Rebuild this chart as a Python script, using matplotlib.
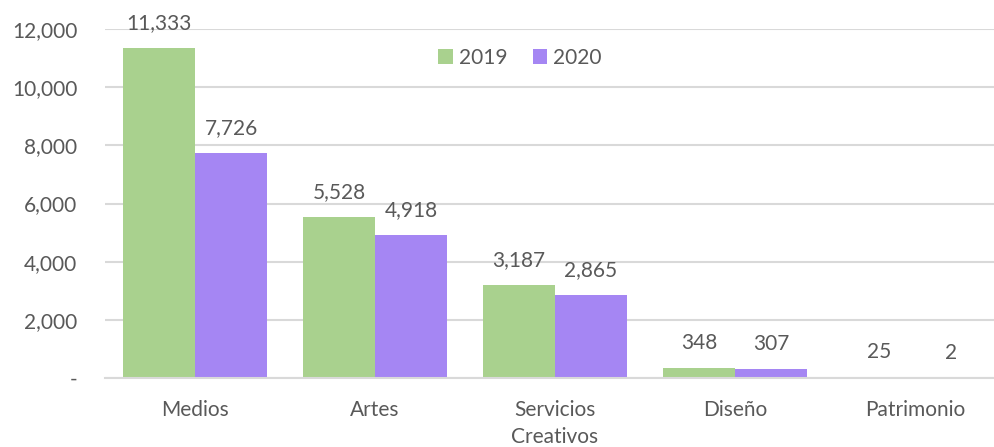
import matplotlib.pyplot as plt
import numpy as np
from matplotlib.ticker import FuncFormatter

categories = ['Medios', 'Artes', 'Servicios\nCreativos', 'Diseño', 'Patrimonio']
values_2019 = [11333, 5528, 3187, 348, 25]
values_2020 = [7726, 4918, 2865, 307, 2]
years = ['2019', '2020']

green = '#A9D18E'
purple = '#A586F3'
text_col = '#595959'
grid_col = '#D9D9D9'

plt.rcParams['font.family'] = ['Lato', 'DejaVu Sans']

fig = plt.figure(figsize=(9.94, 4.47), dpi=100)
ax = fig.add_axes([105 / 994, 1 - 378 / 447, 889 / 994, 349 / 447])

x = np.arange(len(categories))
w = 0.4
b1 = ax.bar(x - w / 2, values_2019, w, color=green, label=years[0], zorder=2)
b2 = ax.bar(x + w / 2, values_2020, w, color=purple, label=years[1], zorder=2)

# value labels above each bar
for bars in (b1, b2):
    for rect in bars:
        h = rect.get_height()
        ax.annotate(f'{h:,.0f}', (rect.get_x() + rect.get_width() / 2, h),
                    xytext=(0, 18), textcoords='offset points',
                    ha='center', va='center', fontsize=15, color=text_col)

ax.set_ylim(0, 12000)
ax.set_xlim(-0.5, -0.5 + 889 / 180)
ax.set_yticks(range(0, 12001, 2000))
ax.yaxis.set_major_formatter(FuncFormatter(lambda v, p: '-' if v == 0 else f'{v:,.0f}'))
ax.set_xticks(x)
ax.set_xticklabels(categories)
ax.tick_params(axis='both', length=0, labelsize=15, labelcolor=text_col)
ax.tick_params(axis='y', pad=20)
ax.tick_params(axis='x', pad=16)
for lab in ax.get_xticklabels():
    lab.set_verticalalignment('top')
    lab.set_linespacing(1.45)

ax.grid(axis='y', color=grid_col, linewidth=1.5, zorder=0)
for s in ['left', 'right', 'top']:
    ax.spines[s].set_visible(False)
ax.spines['bottom'].set_color(grid_col)
ax.spines['bottom'].set_linewidth(1.5)

ax.legend(loc='center', bbox_to_anchor=(0.467, 0.917), ncol=2, frameon=False,
          fontsize=15, labelcolor=text_col, handlelength=0.7, handleheight=0.7,
          handletextpad=0.3, columnspacing=1.2)

fig.savefig('out.png', dpi=100)
